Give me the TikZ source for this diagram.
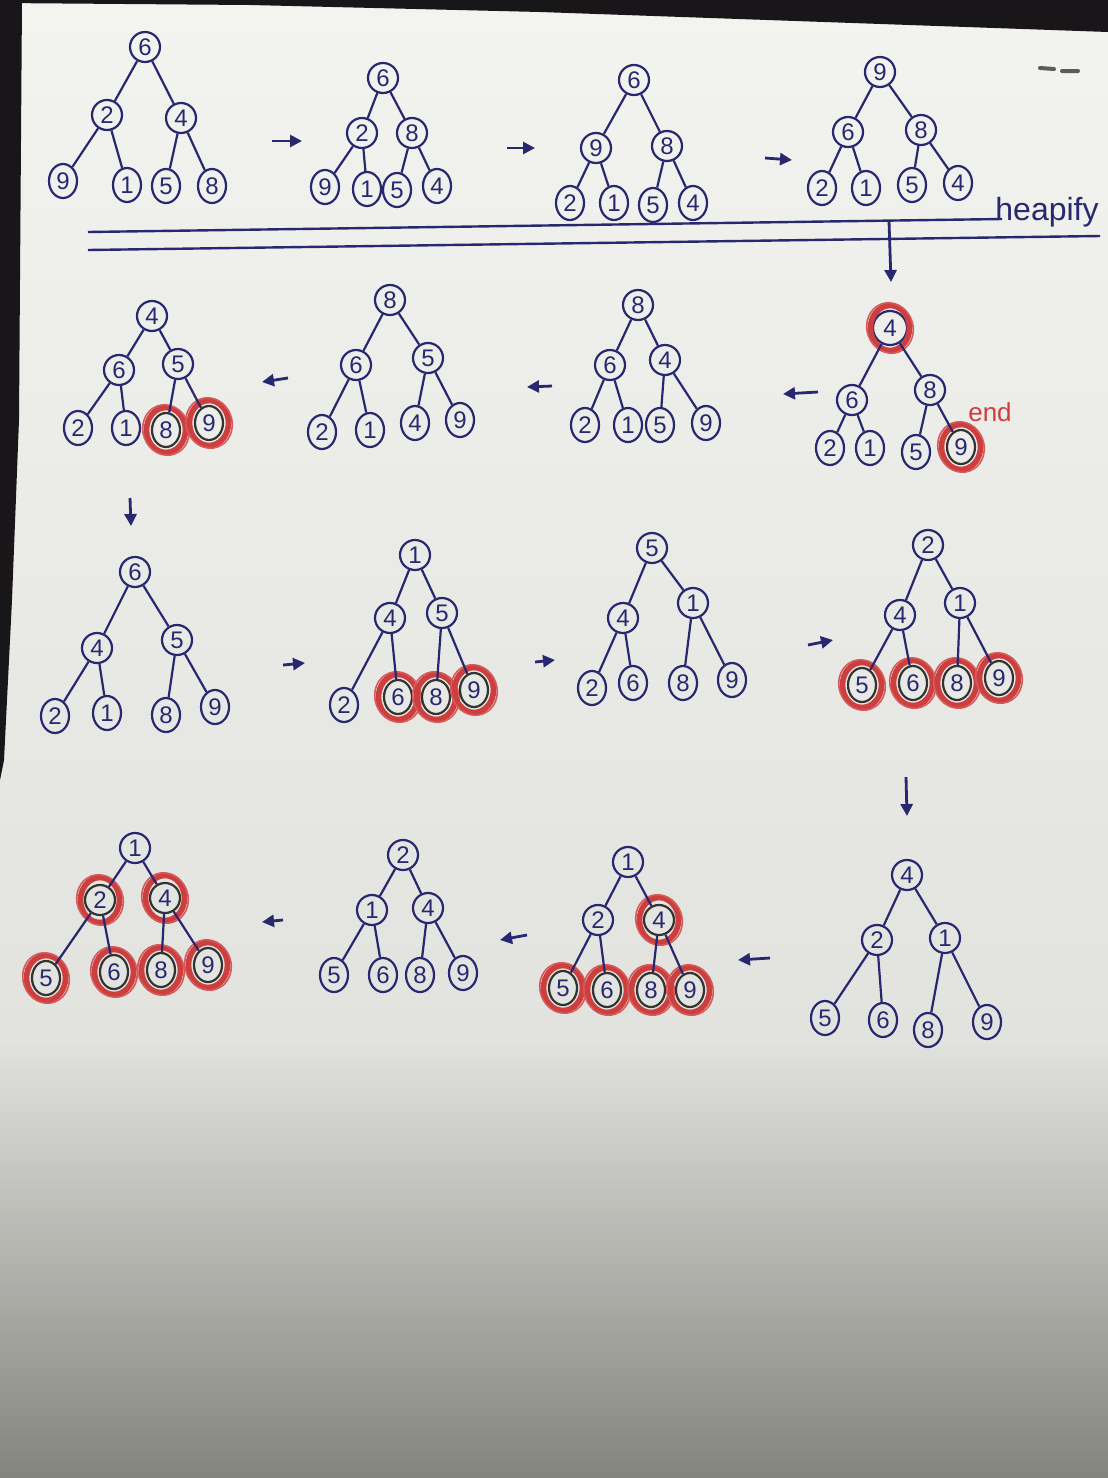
\documentclass[tikz,border=0pt]{standalone}
\usepackage{fontspec}
\setmainfont{Liberation Sans}
\usetikzlibrary{shapes.geometric, arrows.meta}
\definecolor{ink}{RGB}{40,40,112}
\definecolor{redpen}{RGB}{205,62,62}
\definecolor{papertop}{RGB}{243,243,239}
\definecolor{papermid}{RGB}{226,226,222}
\definecolor{paperlow}{RGB}{132,132,127}
\definecolor{shadow}{RGB}{24,22,24}

\begin{document}
\begin{tikzpicture}[x=0.5pt, y=-0.5pt,
    key/.style={circle, draw=ink, line width=1.1pt, inner sep=0pt, minimum size=15pt,
        text=ink, font=\fontsize{12}{12}\selectfont},
    leaf/.style={key, ellipse, minimum width=14pt, minimum height=17pt},
    ring/.style={ellipse, draw=redpen, fill=none, line width=2.8pt, inner sep=0pt,
        minimum width=19.5pt, minimum height=22.5pt},
    scribble/.style={ellipse, draw=redpen!85, fill=none, line width=0.8pt, inner sep=0pt,
        minimum width=23pt, minimum height=25.5pt, rotate=20},
    marked/.style={label={[ring]center:}, label={[scribble]center:}},
    sorted/.style={marked, draw=black!80},
    edge/.style={draw=ink, line width=1.1pt},
    stepto/.style={draw=ink, line width=1.4pt, -{Triangle[length=6pt, width=6pt]}},
    rule/.style={draw=ink, line width=1.2pt},
    note/.style={font=\fontsize{16}{16}\selectfont}
]
    % Paper
    \useasboundingbox (0,0) rectangle (1108,1478);
    \shade[top color=papertop, bottom color=papermid] (0,0) rectangle (1108,1040);
    \shade[top color=papermid, bottom color=paperlow] (0,1040) rectangle (1108,1478);
    \fill[shadow] (0,0) -- (1108,0) -- (1108,32) -- (540,12) -- (250,5) -- (0,3) -- cycle;
    \fill[shadow] (0,0) -- (22,0) -- (19,420) -- (12,600) -- (4,760) -- (0,780) -- cycle;
    \draw[shadow!70, line width=2pt, line cap=round] (1040,68) -- (1054,69) (1062,71) -- (1078,71);

    % Heapify, step 1
    \node[key]  (t1-r) at (145,47)  {6};
    \node[key]  (t1-a) at (107,115) {2};
    \node[key]  (t1-b) at (181,118) {4};
    \node[leaf] (t1-c) at (63,181)  {9};
    \node[leaf] (t1-d) at (127,185) {1};
    \node[leaf] (t1-e) at (166,186) {5};
    \node[leaf] (t1-f) at (212,186) {8};

    % Heapify, step 2
    \node[key]  (t2-r) at (383,78)  {6};
    \node[key]  (t2-a) at (362,133) {2};
    \node[key]  (t2-b) at (412,133) {8};
    \node[leaf] (t2-c) at (325,187) {9};
    \node[leaf] (t2-d) at (367,189) {1};
    \node[leaf] (t2-e) at (397,190) {5};
    \node[leaf] (t2-f) at (437,186) {4};

    % Heapify, step 3
    \node[key]  (t3-r) at (634,80)  {6};
    \node[key]  (t3-a) at (596,148) {9};
    \node[key]  (t3-b) at (667,146) {8};
    \node[leaf] (t3-c) at (570,203) {2};
    \node[leaf] (t3-d) at (614,203) {1};
    \node[leaf] (t3-e) at (653,205) {5};
    \node[leaf] (t3-f) at (693,203) {4};

    % Heapify, step 4
    \node[key]  (t4-r) at (880,72)  {9};
    \node[key]  (t4-a) at (848,132) {6};
    \node[key]  (t4-b) at (921,130) {8};
    \node[leaf] (t4-c) at (822,188) {2};
    \node[leaf] (t4-d) at (866,188) {1};
    \node[leaf] (t4-e) at (912,185) {5};
    \node[leaf] (t4-f) at (958,183) {4};

    % Sort, row 2 (right to left)
    \node[key, marked, minimum size=17pt] (t5-r) at (890,328) {4};
    \node[key]  (t5-a) at (852,400) {6};
    \node[key]  (t5-b) at (930,390) {8};
    \node[leaf] (t5-c) at (830,448) {2};
    \node[leaf] (t5-d) at (870,448) {1};
    \node[leaf] (t5-e) at (916,452) {5};
    \node[leaf, sorted] (t5-f) at (961,447) {9};
    \node[note, text=redpen, font=\fontsize{13}{13}\selectfont] (endnote) at (990,412) {end};

    \node[key]  (t6-r) at (638,305) {8};
    \node[key]  (t6-a) at (610,365) {6};
    \node[key]  (t6-b) at (665,360) {4};
    \node[leaf] (t6-c) at (585,425) {2};
    \node[leaf] (t6-d) at (628,425) {1};
    \node[leaf] (t6-e) at (660,425) {5};
    \node[leaf] (t6-f) at (706,423) {9};

    \node[key]  (t7-r) at (390,300) {8};
    \node[key]  (t7-a) at (356,365) {6};
    \node[key]  (t7-b) at (428,358) {5};
    \node[leaf] (t7-c) at (322,432) {2};
    \node[leaf] (t7-d) at (370,430) {1};
    \node[leaf] (t7-e) at (415,423) {4};
    \node[leaf] (t7-f) at (460,420) {9};

    \node[key]  (t8-r) at (152,316) {4};
    \node[key]  (t8-a) at (119,370) {6};
    \node[key]  (t8-b) at (178,364) {5};
    \node[leaf] (t8-c) at (78,428)  {2};
    \node[leaf] (t8-d) at (126,428) {1};
    \node[leaf, sorted] (t8-e) at (166,430) {8};
    \node[leaf, sorted] (t8-f) at (209,423) {9};

    % Sort, row 3 (left to right)
    \node[key]  (t9-r) at (135,572) {6};
    \node[key]  (t9-a) at (97,648)  {4};
    \node[key]  (t9-b) at (177,640) {5};
    \node[leaf] (t9-c) at (55,716)  {2};
    \node[leaf] (t9-d) at (107,713) {1};
    \node[leaf] (t9-e) at (166,715) {8};
    \node[leaf] (t9-f) at (215,707) {9};

    \node[key]  (t10-r) at (415,555) {1};
    \node[key]  (t10-a) at (390,618) {4};
    \node[key]  (t10-b) at (442,613) {5};
    \node[leaf] (t10-c) at (344,705) {2};
    \node[leaf, sorted] (t10-d) at (398,697) {6};
    \node[leaf, sorted] (t10-e) at (436,697) {8};
    \node[leaf, sorted] (t10-f) at (474,690) {9};

    \node[key]  (t11-r) at (652,548) {5};
    \node[key]  (t11-a) at (623,618) {4};
    \node[key]  (t11-b) at (693,603) {1};
    \node[leaf] (t11-c) at (592,688) {2};
    \node[leaf] (t11-d) at (633,683) {6};
    \node[leaf] (t11-e) at (683,683) {8};
    \node[leaf] (t11-f) at (732,680) {9};

    \node[key]  (t12-r) at (928,545) {2};
    \node[key]  (t12-a) at (900,615) {4};
    \node[key]  (t12-b) at (960,603) {1};
    \node[leaf, sorted] (t12-c) at (862,685) {5};
    \node[leaf, sorted] (t12-d) at (913,683) {6};
    \node[leaf, sorted] (t12-e) at (957,683) {8};
    \node[leaf, sorted] (t12-f) at (999,678) {9};

    % Sort, row 4 (right to left)
    \node[key]  (t13-r) at (907,875)  {4};
    \node[key]  (t13-a) at (877,940)  {2};
    \node[key]  (t13-b) at (945,938)  {1};
    \node[leaf] (t13-c) at (825,1018) {5};
    \node[leaf] (t13-d) at (883,1020) {6};
    \node[leaf] (t13-e) at (928,1030) {8};
    \node[leaf] (t13-f) at (987,1022) {9};

    \node[key]  (t14-r) at (628,862) {1};
    \node[key]  (t14-a) at (598,920) {2};
    \node[key, sorted]  (t14-b) at (659,920) {4};
    \node[leaf, sorted] (t14-c) at (563,988) {5};
    \node[leaf, sorted] (t14-d) at (607,990) {6};
    \node[leaf, sorted] (t14-e) at (651,990) {8};
    \node[leaf, sorted] (t14-f) at (690,990) {9};

    \node[key]  (t15-r) at (403,855) {2};
    \node[key]  (t15-a) at (372,910) {1};
    \node[key]  (t15-b) at (428,908) {4};
    \node[leaf] (t15-c) at (334,975) {5};
    \node[leaf] (t15-d) at (383,975) {6};
    \node[leaf] (t15-e) at (420,975) {8};
    \node[leaf] (t15-f) at (463,973) {9};

    \node[key]  (t16-r) at (135,848) {1};
    \node[key, sorted]  (t16-a) at (100,900) {2};
    \node[key, sorted]  (t16-b) at (165,898) {4};
    \node[leaf, sorted] (t16-c) at (46,978)  {5};
    \node[leaf, sorted] (t16-d) at (114,972) {6};
    \node[leaf, sorted] (t16-e) at (161,970) {8};
    \node[leaf, sorted] (t16-f) at (208,965) {9};

    % Tree edges
    \foreach \i in {1,...,16}
        \draw[edge] (t\i-r) -- (t\i-a) (t\i-r) -- (t\i-b)
                    (t\i-a) -- (t\i-c) (t\i-a) -- (t\i-d)
                    (t\i-b) -- (t\i-e) (t\i-b) -- (t\i-f);

    % Heapify divider
    \node[note, text=ink] (heapify) at (1047,212) {heapify};
    \coordinate (rule1-w) at (88,232);
    \coordinate (rule1-e) at (1002,219);
    \coordinate (rule2-w) at (88,250);
    \coordinate (rule2-e) at (1100,236);
    \draw[rule] (rule1-w) -- (rule1-e);
    \draw[rule] (rule2-w) -- (rule2-e);

    % Step arrows
    \foreach \n/\xa/\ya/\xb/\yb in {1/272/141/302/141, 2/507/148/535/148, 3/765/158/792/160,
            4/889/221/891/282, 5/818/392/783/394, 6/552/386/527/387, 7/288/378/262/382,
            8/130/498/131/526, 9/283/665/305/663, 10/535/662/555/660, 11/808/645/833/640,
            12/906/777/907/816, 13/770/958/738/960, 14/527/935/500/940, 15/283/920/262/922} {
        \coordinate (go\n-s) at (\xa,\ya);
        \coordinate (go\n-e) at (\xb,\yb);
        \draw[stepto] (go\n-s) -- (go\n-e);
    }
\end{tikzpicture}
\end{document}
